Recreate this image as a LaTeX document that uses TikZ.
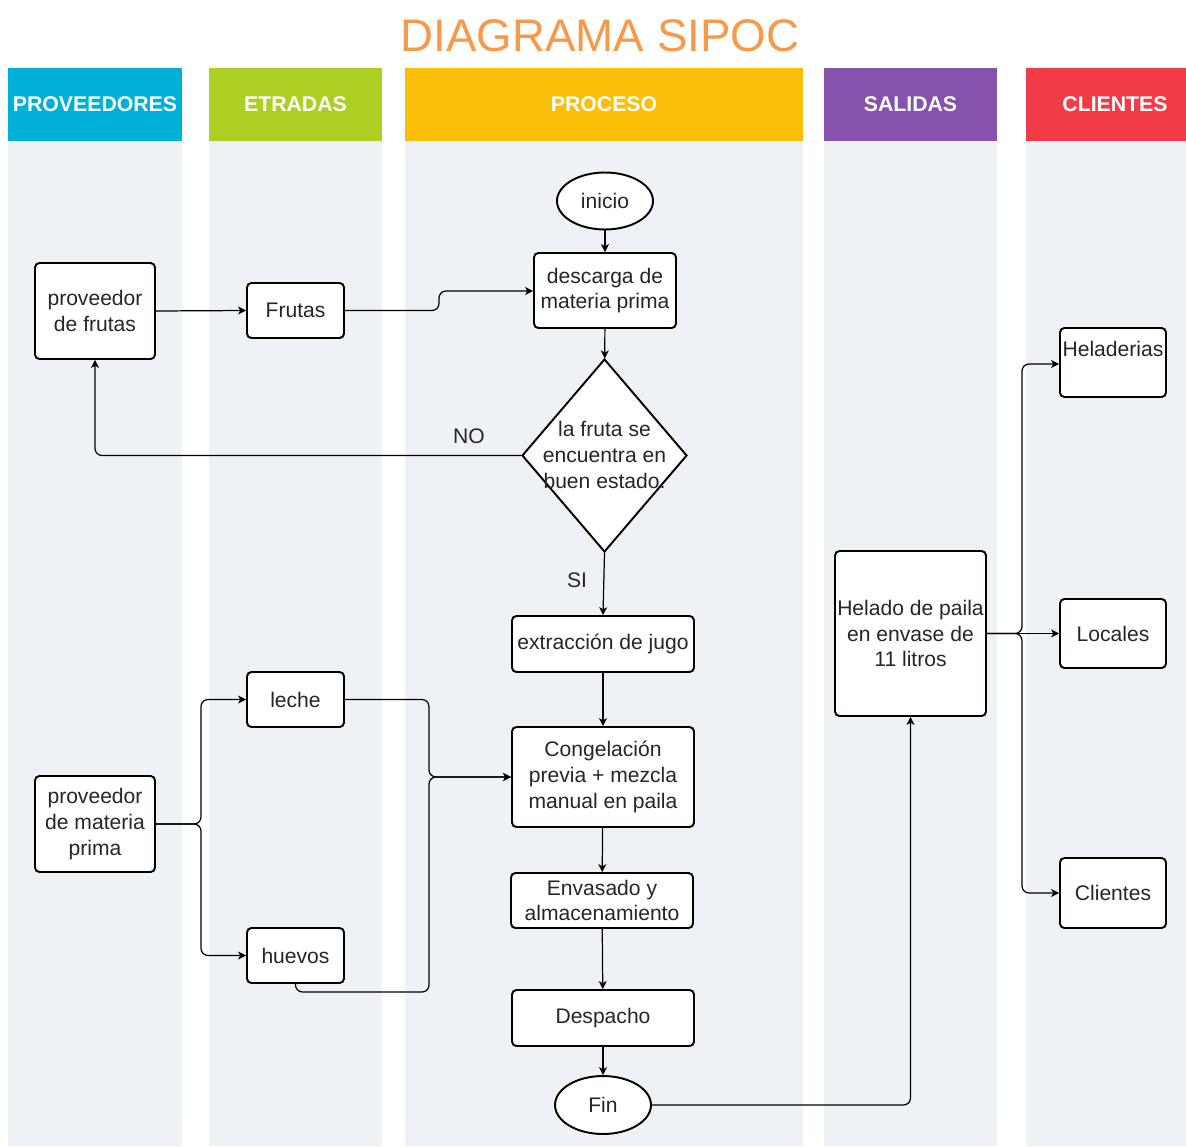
\documentclass[tikz,border=0pt]{standalone}
\usepackage{fontspec}
\setmainfont{Liberation Sans}
\usetikzlibrary{shapes.geometric,arrows.meta}
\definecolor{provc}{HTML}{00B1D7}
\definecolor{entc}{HTML}{ADCF23}
\definecolor{procc}{HTML}{FBBF09}
\definecolor{salc}{HTML}{8652AE}
\definecolor{clic}{HTML}{F13C48}
\definecolor{titlec}{HTML}{F8994A}
\definecolor{lanec}{HTML}{EEF2F6}
\definecolor{txtc}{HTML}{262626}
\begin{document}
\begin{tikzpicture}[x=0.02cm,y=-0.02cm,
  bodyfont/.style={font=\fontsize{12}{14.7}\selectfont},
  box/.style={draw=black, line width=1.1pt, rounded corners=2.5pt, fill=white,
    text=txtc, bodyfont, align=center, inner sep=0pt},
  oval/.style={ellipse, draw=black, line width=1.1pt, fill=white,
    text=txtc, bodyfont, inner sep=0pt},
  decision/.style={diamond, draw=black, line width=1.1pt, fill=white, inner sep=0pt},
  header/.style={text=white, font=\fontsize{12.1}{14}\selectfont\bfseries,
    minimum height=1.46cm, inner sep=0pt},
  lane/.style={fill=lanec},
  flow/.style={line width=0.7pt, rounded corners=4pt,
    -{Stealth[length=4.5pt,width=4.5pt,inset=1.2pt]}},
  tag/.style={text=txtc, bodyfont, inner sep=0pt}]
\useasboundingbox (0,0) rectangle (1186,1146);
\fill[white] (0,0) rectangle (1186,1146);

% title
\node[text=titlec, font=\fontsize{26}{30}\selectfont] (title) at (600,36) {DIAGRAMA SIPOC};

% swimlane bodies
\fill[lane] (8,141) rectangle (182,1146);
\fill[lane] (209,141) rectangle (382,1146);
\fill[lane] (405,141) rectangle (803,1146);
\fill[lane] (824,141) rectangle (997,1146);
\fill[lane] (1026,141) rectangle (1186,1146);

% swimlane headers
\fill[provc] (8,68) rectangle (182,141);
\fill[entc] (209,68) rectangle (382,141);
\fill[procc] (405,68) rectangle (803,141);
\fill[salc] (824,68) rectangle (997,141);
\fill[clic] (1026,68) rectangle (1186,141);
\node[header] (hprov) at (95,104) {PROVEEDORES};
\node[header] (hent) at (295.5,104) {ETRADAS};
\node[header] (hproc) at (604,104) {PROCESO};
\node[header] (hsal) at (910.5,104) {SALIDAS};
\node[header] (hcli) at (1115,104) {CLIENTES};

% process column
\node[oval, minimum width=1.92cm, minimum height=1.14cm] (inicio) at (605,201) {inicio};
\node[box, minimum width=2.84cm, minimum height=1.5cm] (desc) at (605,290.5) {descarga de\\materia prima};
\node[decision, minimum width=3.3cm, minimum height=3.86cm] (dec) at (604.5,455.5) {};
\node[tag, align=center] (dectxt) at (604.5,455) {la fruta se\\encuentra en\\buen estado.};
\node[box, minimum width=3.64cm, minimum height=1.12cm] (ext) at (603,644) {extracción de jugo};
\node[box, minimum width=3.64cm, minimum height=2.0cm] (cong) at (603,777) {Congelación\\previa + mezcla\\manual en paila};
\node[box, minimum width=3.64cm, minimum height=1.1cm] (env) at (602,900.5) {Envasado y\\almacenamiento};
\node[box, minimum width=3.64cm, minimum height=1.12cm] (desp) at (603,1018) {Despacho};
\node[oval, minimum width=1.92cm, minimum height=1.16cm] (fin) at (603,1105) {Fin};

% suppliers and inputs
\node[box, minimum width=2.4cm, minimum height=1.92cm] (pfrut) at (95,311) {proveedor\\de frutas};
\node[box, minimum width=1.94cm, minimum height=1.1cm] (frutas) at (295.5,310.5) {Frutas};
\node[box, minimum width=1.94cm, minimum height=1.1cm] (leche) at (295.5,699.5) {leche};
\node[box, minimum width=1.94cm, minimum height=1.1cm] (huevos) at (295.5,955.5) {huevos};
\node[box, minimum width=2.4cm, minimum height=1.92cm] (pmat) at (95,824) {proveedor\\de materia\\prima};

% outputs and customers
\node[box, minimum width=3.02cm, minimum height=3.3cm] (helado) at (910.5,633.5) {Helado de paila\\en envase de\\11 litros};
\node[box, minimum width=2.12cm, minimum height=1.38cm] (helad) at (1113,362.5) {};
\node[tag] (heladtxt) at (1113,349) {Heladerias};
\node[box, minimum width=2.12cm, minimum height=1.38cm] (loc) at (1113,633.5) {Locales};
\node[box, minimum width=2.12cm, minimum height=1.4cm] (cli) at (1113,893) {Clientes};

% process flow
\draw[flow] (inicio) -- (desc);
\draw[flow] (desc) -- (dec);
\draw[flow] (dec.south) -- (ext.north);
\draw[flow] (ext) -- (cong);
\draw[flow] (cong) -- (env);
\draw[flow] (env) -- (desp);
\draw[flow] (desp) -- (fin);
\node[tag] (si) at (577,580) {SI};

% rejected fruit goes back to the supplier
\draw[flow] (dec.west) -- (95,455.5) -- (pfrut.south);
\node[tag] (no) at (469,436) {NO};

% fruit supply
\draw[flow] (pfrut.east) -- (frutas.west);
\draw[flow] (frutas.east) -- (439,310.5) -- (439,291) -- (desc.west |- 0,291);

% raw material supply
\draw[flow] (pmat.east) -- (201,824) -- (201,699.5) -- (leche.west);
\draw[flow] (pmat.east) -- (201,824) -- (201,955.5) -- (huevos.west);
\draw[flow] (leche.east) -- (429,699.5) -- (429,777) -- (cong.west);
\draw[flow] (huevos.south) -- (295.5,992) -- (429,992) -- (429,777) -- (cong.west);

% delivery
\draw[flow] (fin.east) -- (910.5,1105) -- (helado.south);
\draw[flow] (helado.east) -- (1022,633.5) -- (1022,364) -- (helad.west |- 0,364);
\draw[flow] (helado.east) -- (loc.west);
\draw[flow] (helado.east) -- (1022,633.5) -- (1022,893) -- (cli.west);
\end{tikzpicture}
\end{document}
